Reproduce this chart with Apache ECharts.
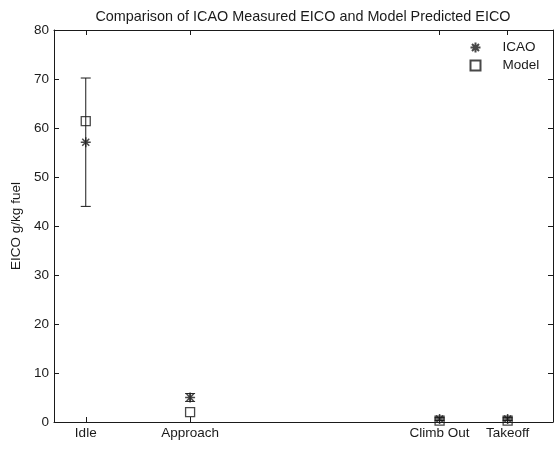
<!DOCTYPE html>
<html>
<head>
<meta charset="utf-8">
<script src="https://cdn.jsdelivr.net/npm/echarts@6/dist/echarts.min.js"></script>
<style>
  html, body { margin: 0; padding: 0; background: #fff; }
  #chart { width: 559px; height: 449px; }
</style>
</head>
<body>
<div id="chart"></div>
<script>
// Flight phases and their thrust settings (fraction of rated thrust)
const phases = ['Idle', 'Approach', 'Climb Out', 'Takeoff'];
const thrust = [0.07, 0.30, 0.85, 1.00];

// EICO in g/kg fuel
const icao = [57.1, 5.0, 0.6, 0.6];
const icaoErr = [13.1, 0.8, 0.3, 0.3];
const model = [61.4, 2.0, 0.3, 0.3];

const yTicks = [0, 10, 20, 30, 40, 50, 60, 70, 80];

const FONT = 'Liberation Sans, Arial, sans-serif';
const FS = 13.5;
const INK = '#1a1a1a';

const asterisk = 'path://M0 5L10 5M5 0L5 10M1.5 1.5L8.5 8.5M8.5 1.5L1.5 8.5';

const errData = thrust.map((t, i) => [t, icao[i] - icaoErr[i], icao[i] + icaoErr[i]]);

const chart = echarts.init(document.getElementById('chart'), null, { renderer: 'canvas' });

const labelOf = v => {
  const i = thrust.findIndex(t => Math.abs(t - v) < 1e-6);
  return i >= 0 ? phases[i] : '';
};

const frameLine = { show: true, onZero: false, lineStyle: { color: INK, width: 1 } };

chart.setOption({
  animation: false,
  backgroundColor: '#fff',
  title: {
    text: 'Comparison of ICAO Measured EICO and Model Predicted EICO',
    left: 298,
    textAlign: 'center',
    top: 5,
    textStyle: { fontFamily: FONT, fontSize: 14.4, fontWeight: 'normal', color: INK }
  },
  legend: {
    orient: 'vertical',
    left: 463,
    top: 35,
    itemWidth: 10,
    itemHeight: 10,
    itemGap: 3,
    data: ['ICAO', 'Model'],
    textStyle: { fontFamily: FONT, fontSize: FS, color: INK, lineHeight: 15, padding: [0, 0, 0, 17] }
  },
  grid: {
    left: 54, right: 6, top: 30, bottom: 27,
    outerBoundsMode: 'none'
  },
  xAxis: [{
    type: 'value',
    min: 0, max: 1.1,
    axisLine: frameLine,
    axisTick: { inside: true, length: 5, lineStyle: { color: INK }, customValues: thrust },
    axisLabel: {
      customValues: thrust,
      formatter: labelOf,
      margin: 4,
      fontFamily: FONT, fontSize: FS, color: INK
    },
    splitLine: { show: false }
  }, {
    type: 'value',
    position: 'top',
    min: 0, max: 1.1,
    axisLine: frameLine,
    axisTick: { inside: true, length: 5, lineStyle: { color: INK }, customValues: thrust },
    axisLabel: { show: false },
    splitLine: { show: false }
  }],
  yAxis: [{
    type: 'value',
    min: 0, max: 80, interval: 10,
    name: 'EICO g/kg fuel',
    nameLocation: 'middle',
    nameGap: 27,
    nameTextStyle: { fontFamily: FONT, fontSize: FS, color: INK },
    axisLine: frameLine,
    axisTick: { inside: true, length: 5, lineStyle: { color: INK } },
    axisLabel: {
      margin: 5,
      formatter: v => (yTicks.includes(v) ? String(v) : ''),
      fontFamily: FONT, fontSize: FS, color: INK
    },
    splitLine: { show: false }
  }, {
    type: 'value',
    position: 'right',
    min: 0, max: 80, interval: 10,
    axisLine: frameLine,
    axisTick: { inside: true, length: 5, lineStyle: { color: INK } },
    axisLabel: { show: false },
    splitLine: { show: false }
  }],
  series: [{
    name: 'ICAO range',
    type: 'custom',
    xAxisIndex: 0, yAxisIndex: 0,
    data: errData,
    z: 2,
    renderItem: (params, api) => {
      const lo = api.coord([api.value(0), api.value(1)]);
      const hi = api.coord([api.value(0), api.value(2)]);
      const cap = 5;
      const style = { stroke: INK, lineWidth: 1 };
      return {
        type: 'group',
        children: [
          { type: 'line', shape: { x1: lo[0], y1: lo[1], x2: hi[0], y2: hi[1] }, style },
          { type: 'line', shape: { x1: lo[0] - cap, y1: lo[1], x2: lo[0] + cap, y2: lo[1] }, style },
          { type: 'line', shape: { x1: hi[0] - cap, y1: hi[1], x2: hi[0] + cap, y2: hi[1] }, style }
        ]
      };
    }
  }, {
    name: 'ICAO',
    type: 'scatter',
    data: thrust.map((t, i) => [t, icao[i]]),
    symbol: asterisk,
    symbolSize: 10,
    itemStyle: { color: 'none', borderColor: INK, borderWidth: 1.5 },
    z: 4
  }, {
    name: 'Model',
    type: 'scatter',
    data: thrust.map((t, i) => [t, model[i]]),
    symbol: 'rect',
    symbolSize: 9,
    itemStyle: { color: 'rgba(255,255,255,0)', borderColor: INK, borderWidth: 1.3 },
    z: 3
  }]
});
</script>
</body>
</html>
